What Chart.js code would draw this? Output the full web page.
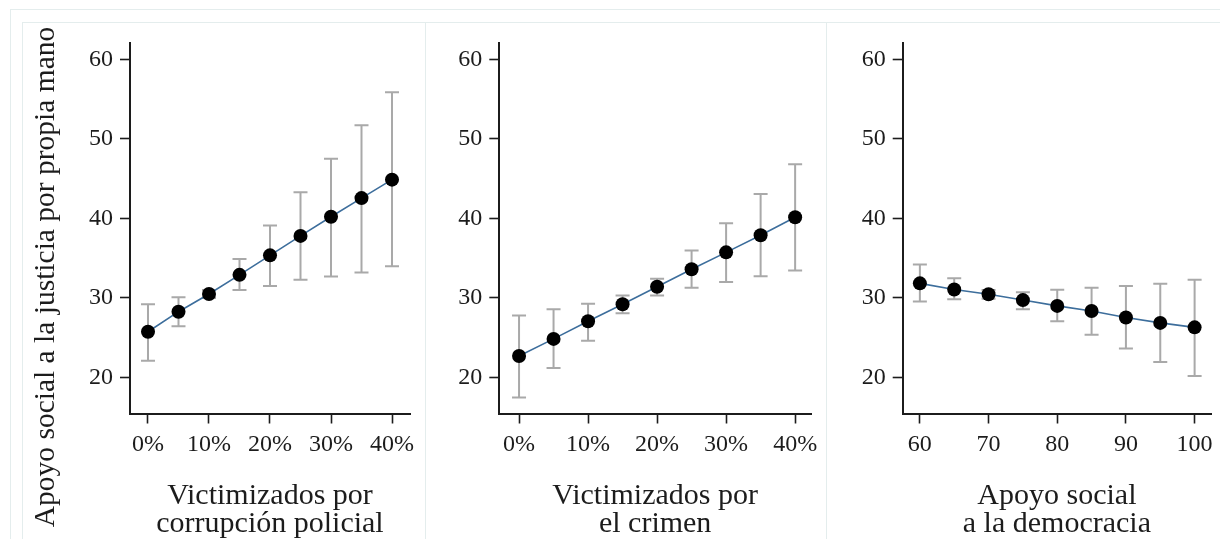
<!DOCTYPE html>
<html>
<head>
<meta charset="utf-8">
<script src="https://cdn.jsdelivr.net/npm/chart.js@4"></script>
<style>
  body { margin: 0; background: #fff; width: 1220px; height: 539px; overflow: hidden; position: relative; }
  .frame { position: absolute; border-top: 1px solid #e4eded; border-left: 1px solid #e4eded; }
  .sep { position: absolute; top: 22px; bottom: 0; width: 0; border-left: 1px solid #e4eded; }
  .panel { position: absolute; top: 22px; }
</style>
</head>
<body>
<div class="frame" style="left:10px;top:9px;right:0;bottom:0"></div>
<div class="frame" style="left:22px;top:22px;right:0;bottom:0"></div>
<div class="sep" style="left:425px"></div>
<div class="sep" style="left:826px"></div>
<div class="panel" style="left:22px"><canvas id="c1" width="403" height="517"></canvas></div>
<div class="panel" style="left:425px"><canvas id="c2" width="401" height="517"></canvas></div>
<div class="panel" style="left:826px"><canvas id="c3" width="394" height="517"></canvas></div>
<script>
// panel 1: victimizados por corrupcion policial
const pctX = [0, 5, 10, 15, 20, 25, 30, 35, 40];
const corrY = [25.75, 28.27, 30.5, 32.9, 35.35, 37.8, 40.2, 42.55, 44.87];
const corrLo = [22.1, 26.43, 30.0, 31.0, 31.5, 32.3, 32.7, 33.2, 33.97];
const corrHi = [29.2, 30.07, 31.0, 34.9, 39.1, 43.3, 47.5, 51.7, 55.85];

// panel 2: victimizados por el crimen
const crimeY = [22.7, 24.85, 27.07, 29.2, 31.4, 33.6, 35.73, 37.88, 40.15];
const crimeLo = [17.47, 21.2, 24.63, 28.06, 30.3, 31.27, 32.0, 32.73, 33.46];
const crimeHi = [27.8, 28.57, 29.26, 30.3, 32.4, 35.95, 39.38, 43.07, 46.8];

// panel 3: apoyo social a la democracia
const demoX = [60, 65, 70, 75, 80, 85, 90, 95, 100];
const demoY = [31.83, 31.06, 30.46, 29.73, 29.0, 28.36, 27.54, 26.86, 26.3];
const demoLo = [29.56, 29.82, 29.9, 28.57, 27.07, 25.36, 23.64, 21.93, 20.17];
const demoHi = [34.19, 32.48, 31.0, 30.72, 31.02, 31.27, 31.49, 31.79, 32.3];

const yTicks = [20, 30, 40, 50, 60];
const pctTicks = [0, 10, 20, 30, 40];
const demoTicks = [60, 70, 80, 90, 100];
const yTitle = 'Apoyo social a la justicia por propia mano';

const serif = 'Liberation Serif';
const ink = '#1c1c1c';

// grey confidence intervals, drawn under the line and points
const errorBars = {
  id: 'errorBars',
  beforeDatasetsDraw(chart) {
    const ctx = chart.ctx;
    const x = chart.scales.x, y = chart.scales.y;
    const ds = chart.data.datasets[0];
    ctx.save();
    ctx.strokeStyle = '#a9a9a9';
    ctx.lineWidth = 2;
    ds.data.forEach(function (p, i) {
      const px = x.getPixelForValue(p.x);
      const top = y.getPixelForValue(ds.errHi[i]);
      const bot = y.getPixelForValue(ds.errLo[i]);
      ctx.beginPath();
      ctx.moveTo(px, top); ctx.lineTo(px, bot);
      ctx.moveTo(px - 7, top); ctx.lineTo(px + 7, top);
      ctx.moveTo(px - 7, bot); ctx.lineTo(px + 7, bot);
      ctx.stroke();
    });
    ctx.restore();
  }
};

// shared y title, longer than the axis so it is placed by hand in panel 1
const sideTitle = {
  id: 'sideTitle',
  afterDraw(chart) {
    if (!chart.options.plugins.sideTitle.show) return;
    const ctx = chart.ctx;
    ctx.save();
    ctx.translate(24, 255);
    ctx.rotate(-Math.PI / 2);
    ctx.font = '29.5px "' + serif + '"';
    ctx.fillStyle = ink;
    ctx.textAlign = 'center';
    ctx.textBaseline = 'middle';
    ctx.fillText(yTitle, 0, 0);
    ctx.restore();
  }
};

function makePanel(id, xs, ys, lo, hi, xMin, xMax, xTicks, fmt, xTitle, showYTitle, yWidth, rightPad) {
  new Chart(document.getElementById(id), {
    type: 'line',
    data: {
      datasets: [{
        data: xs.map(function (v, i) { return {x: v, y: ys[i]}; }),
        errLo: lo,
        errHi: hi,
        borderColor: '#3d6e9c',
        borderWidth: 1.6,
        pointRadius: 7,
        pointBackgroundColor: '#000',
        pointBorderColor: '#000',
        pointBorderWidth: 0,
        tension: 0
      }]
    },
    options: {
      responsive: false,
      animation: false,
      layout: {padding: {top: 17, left: 0, right: rightPad, bottom: 0}},
      plugins: {legend: {display: false}, tooltip: {enabled: false}, sideTitle: {show: showYTitle}},
      scales: {
        x: {
          type: 'linear',
          min: xMin,
          max: xMax,
          afterBuildTicks: function (s) { s.ticks = xTicks.map(function (v) { return {value: v}; }); },
          afterFit: function (s) { s.height = 125.5; },
          grid: {drawOnChartArea: false, color: ink, tickLength: 10, tickWidth: 1.6},
          border: {color: ink, width: 2},
          ticks: {
            color: ink, padding: 7, maxRotation: 0,
            font: {family: serif, size: 24},
            callback: fmt
          },
          title: {
            display: true, text: xTitle, color: ink,
            font: {family: serif, size: 30, lineHeight: 0.94},
            padding: {top: 0, bottom: 1}
          }
        },
        y: {
          min: 15.47,
          max: 62,
          afterBuildTicks: function (s) { s.ticks = yTicks.map(function (v) { return {value: v}; }); },
          afterFit: function (s) { s.width = yWidth; },
          grid: {drawOnChartArea: false, color: ink, tickLength: 10, tickWidth: 1.6},
          border: {color: ink, width: 2},
          ticks: {color: ink, padding: 7, font: {family: serif, size: 24}}
        }
      }
    },
    plugins: [errorBars, sideTitle]
  });
}

function pct(v) { return v + '%'; }
function plain(v) { return String(v); }

makePanel('c1', pctX, corrY, corrLo, corrHi, -2.95, 42.95, pctTicks, pct,
  ['Victimizados por', 'corrupción policial'], true, 108, 15);
makePanel('c2', pctX, crimeY, crimeLo, crimeHi, -2.86, 42.3, pctTicks, pct,
  ['Victimizados por', 'el crimen'], false, 74.3, 15);
makePanel('c3', demoX, demoY, demoLo, demoHi, 57.5, 102.4, demoTicks, plain,
  ['Apoyo social', 'a la democracia'], false, 76.7, 7.3);
</script>
</body>
</html>
